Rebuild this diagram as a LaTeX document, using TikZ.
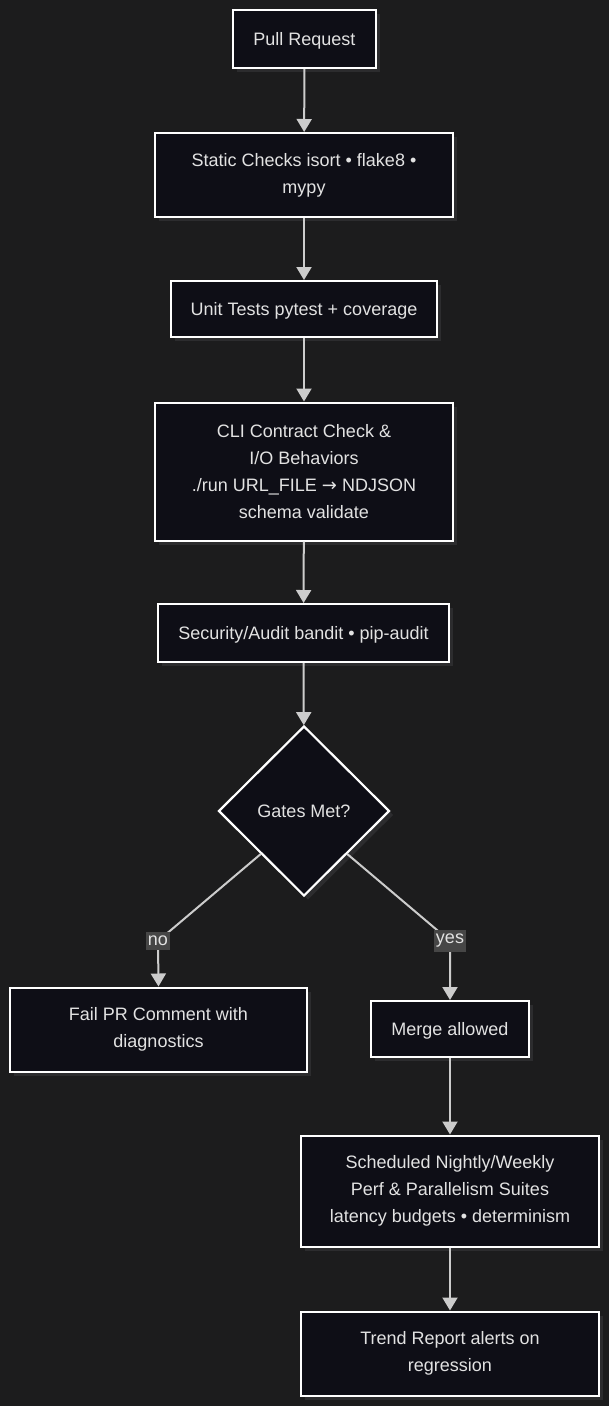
\documentclass[tikz,border=0pt]{standalone}
\usepackage{fontspec}
\setmainfont{Liberation Sans}
\newfontfamily\arrowfont{DejaVu Sans}
\usetikzlibrary{shapes.geometric,arrows.meta,shadows}
\definecolor{bgc}{RGB}{28,28,29}
\definecolor{boxc}{RGB}{14,14,22}
\definecolor{shc}{RGB}{44,44,46}
\definecolor{linec}{RGB}{204,204,204}
\definecolor{txtc}{RGB}{226,226,226}
\definecolor{labc}{RGB}{70,70,70}
\newcommand{\lowerstrut}{\rule{0pt}{17pt}}
\begin{document}
\begin{tikzpicture}[x=1pt,y=-1pt,
  every node/.style={font=\fontsize{18}{27}\selectfont, text=txtc},
  stepbox/.style={draw=white, line width=2pt, fill=boxc, align=center, inner sep=0pt,
    execute at begin node=\lowerstrut,
    drop shadow={shadow xshift=4pt, shadow yshift=-4pt, fill=shc, opacity=1}},
  decis/.style={diamond, draw=white, line width=2.2pt, fill=boxc, inner sep=0pt,
    minimum width=171pt, minimum height=170pt,
    drop shadow={shadow xshift=4pt, shadow yshift=-4pt, fill=shc, opacity=1}},
  flow/.style={draw=linec, line width=2pt, -{Triangle[width=15pt,length=13pt]}},
  edgelab/.style={fill=labc, inner xsep=1.5pt, inner ysep=4pt, text=txtc}
]
\fill[bgc] (0,0) rectangle (609,1406);
\useasboundingbox (0,0) rectangle (609,1406);

\node[stepbox, minimum width=143pt, minimum height=58pt] (pr) at (304.5,39) {Pull Request};
\node[stepbox, minimum width=298pt, minimum height=84pt] (sc) at (304,175) {Static Checks isort • flake8 •\\mypy};
\node[stepbox, minimum width=266pt, minimum height=56pt] (ut) at (304,309) {Unit Tests pytest + coverage};
\node[stepbox, minimum width=298pt, minimum height=138pt] (cli) at (304,471.5) {CLI Contract Check \&\\I/O Behaviors\\./run URL\_FILE {\arrowfont →} NDJSON\\schema validate};
\node[stepbox, minimum width=291pt, minimum height=58pt] (sec) at (303.5,633) {Security/Audit bandit • pip-audit};
\node[decis] (gate) at (304,811) {Gates Met?};
\node[stepbox, minimum width=297pt, minimum height=84pt] (fail) at (158.5,1029.5) {Fail PR Comment with\\diagnostics};
\node[stepbox, minimum width=158pt, minimum height=56pt] (merge) at (450,1029) {Merge allowed};
\node[stepbox, minimum width=298pt, minimum height=111pt] (sched) at (450,1191) {Scheduled Nightly/Weekly\\Perf \& Parallelism Suites\\latency budgets • determinism};
\node[stepbox, minimum width=298pt, minimum height=84pt] (trend) at (450,1353.5) {Trend Report alerts on\\regression};

\coordinate (nob) at (158,941);
\coordinate (yesb) at (450,941);

\draw[flow] (pr) -- (sc);
\draw[flow] (sc) -- (ut);
\draw[flow] (ut) -- (cli);
\draw[flow] (cli) -- (sec);
\draw[flow] (sec) -- (gate);
\draw[flow] (gate.south west) -- (nob) -- (fail.north);
\draw[flow] (gate.south east) -- (yesb) -- (merge.north);
\draw[flow] (merge) -- (sched);
\draw[flow] (sched) -- (trend);

\node[edgelab] (nolab) at (nob) {no};
\node[edgelab] (yeslab) at (yesb) {yes};
\end{tikzpicture}
\end{document}
